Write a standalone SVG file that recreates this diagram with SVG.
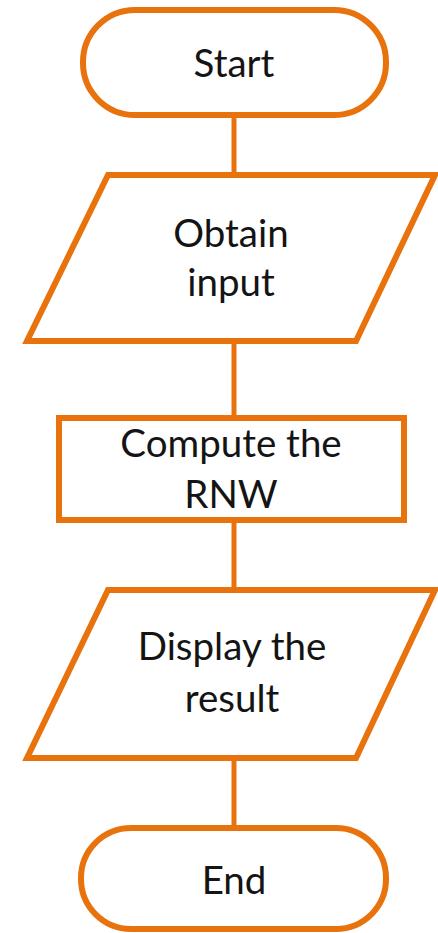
<svg xmlns="http://www.w3.org/2000/svg" width="438" height="933" viewBox="0 0 438 933">
  <style>
    .shape { fill: #ffffff; stroke: #E8720C; stroke-width: 6; stroke-linejoin: miter; }
    .link { stroke: #E8720C; stroke-width: 5; fill: none; }
    .label { font-family: "Lato", "Open Sans", sans-serif; font-size: 38.5px; fill: #141414; text-anchor: middle; }
  </style>
  <rect width="438" height="933" fill="#ffffff"/>
  <g id="connectors">
    <line class="link" x1="234" y1="115" x2="234" y2="175"/>
    <line class="link" x1="234" y1="341" x2="234" y2="418"/>
    <line class="link" x1="234" y1="520" x2="234" y2="590"/>
    <line class="link" x1="234" y1="758" x2="234" y2="828"/>
  </g>
  <g id="start">
    <rect class="shape" x="83" y="10" width="303" height="105" rx="52" ry="52"/>
    <text class="label" x="234" y="77">Start</text>
  </g>
  <g id="obtain-input">
    <polygon class="shape" points="108,175 435,175 356,341 27,341"/>
    <text class="label" x="231" y="247">Obtain</text>
    <text class="label" x="231" y="296">input</text>
  </g>
  <g id="compute">
    <rect class="shape" x="59" y="418" width="345" height="102"/>
    <text class="label" x="231" y="457">Compute the</text>
    <text class="label" x="231" y="508">RNW</text>
  </g>
  <g id="display-result">
    <polygon class="shape" points="108,590 435,590 356,758 27,758"/>
    <text class="label" x="232" y="660">Display the</text>
    <text class="label" x="232" y="712">result</text>
  </g>
  <g id="end">
    <rect class="shape" x="81" y="828" width="305" height="101" rx="50" ry="50"/>
    <text class="label" x="234" y="894">End</text>
  </g>
</svg>
